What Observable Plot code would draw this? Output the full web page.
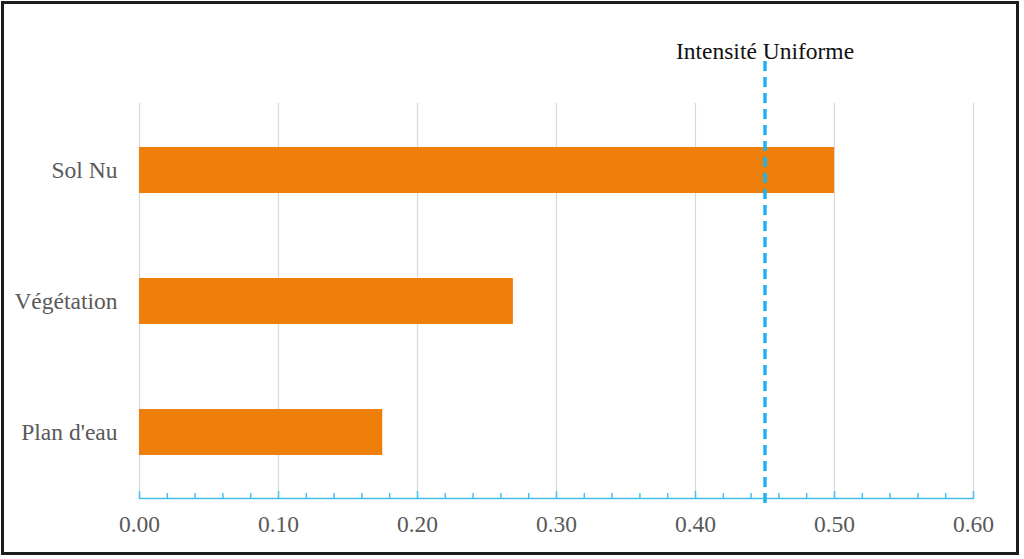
<!DOCTYPE html>
<html>
<head>
<meta charset="utf-8">
<script src="https://cdn.jsdelivr.net/npm/d3@7"></script>
<script src="https://cdn.jsdelivr.net/npm/@observablehq/plot@0.6"></script>
<style>
  html, body { margin: 0; padding: 0; background: #fff; }
  #wrap { position: relative; width: 1024px; height: 559px; overflow: hidden; }
  #border { position: absolute; left: 1px; top: 1px; width: 1018px; height: 554px; box-sizing: border-box;
            border: 3px solid #1c1c1c; pointer-events: none; }
  svg { display: block; }
</style>
</head>
<body>
<div id="wrap"><div id="border"></div></div>
<script>
const categories = ["Sol Nu", "Végétation", "Plan d'eau"];
const values = [0.50, 0.269, 0.175];
const xTickValues = [0, 0.1, 0.2, 0.3, 0.4, 0.5, 0.6];
const minorTickValues = [0.02, 0.04, 0.06, 0.08, 0.12, 0.14, 0.16, 0.18, 0.22, 0.24, 0.26, 0.28,
  0.32, 0.34, 0.36, 0.38, 0.42, 0.44, 0.46, 0.48, 0.52, 0.54, 0.56, 0.58];
const uniformIntensity = 0.45;
const uniformLabel = "Intensité Uniforme";

const data = categories.map((c, i) => ({category: c, value: values[i]}));
const blue = "#1fb2ee";
const axisBlue = "#45c0f0";
const serif = "'Liberation Serif', 'Times New Roman', Times, serif";

const chart = Plot.plot({
  width: 1024,
  height: 559,
  marginLeft: 139,
  marginRight: 51,
  marginTop: 103,
  marginBottom: 61,
  style: {fontFamily: serif, background: "transparent"},
  x: {domain: [0, 0.6]},
  y: {domain: categories, paddingInner: 0.65, paddingOuter: 0.325},
  marks: [
    Plot.gridX({ticks: xTickValues, stroke: "#d9d9d9", strokeOpacity: 1, strokeWidth: 1.2}),
    Plot.barX(data, {x: "value", y: "category", fill: "#ef7f0b"}),
    Plot.frame({anchor: "bottom", stroke: axisBlue, strokeWidth: 1.5}),
    Plot.ruleX(minorTickValues, {x: d => d, stroke: axisBlue, strokeWidth: 1.5, insetTop: 390}),
    Plot.ruleX(xTickValues, {x: d => d, stroke: axisBlue, strokeWidth: 1.5, insetTop: 388}),
    Plot.ruleX([uniformIntensity], {x: d => d, stroke: blue, strokeWidth: 3.5, strokeDasharray: "10,6", insetTop: -42, insetBottom: -10}),
    Plot.text([uniformLabel], {x: () => uniformIntensity, text: d => d, frameAnchor: "top", dy: -61,
      fontSize: 23.5, fill: "#111", fontFamily: serif}),
    Plot.axisX({ticks: xTickValues, tickFormat: d3.format(".2f"), tickSize: 0, tickPadding: 17,
      fontSize: 23.5, fill: "#595959", label: null, fontFamily: serif}),
    Plot.axisY({tickSize: 0, tickPadding: 22, fontSize: 23.5, fill: "#595959", label: null, fontFamily: serif})
  ]
});
document.getElementById("wrap").insertBefore(chart, document.getElementById("border"));
</script>
</body>
</html>
